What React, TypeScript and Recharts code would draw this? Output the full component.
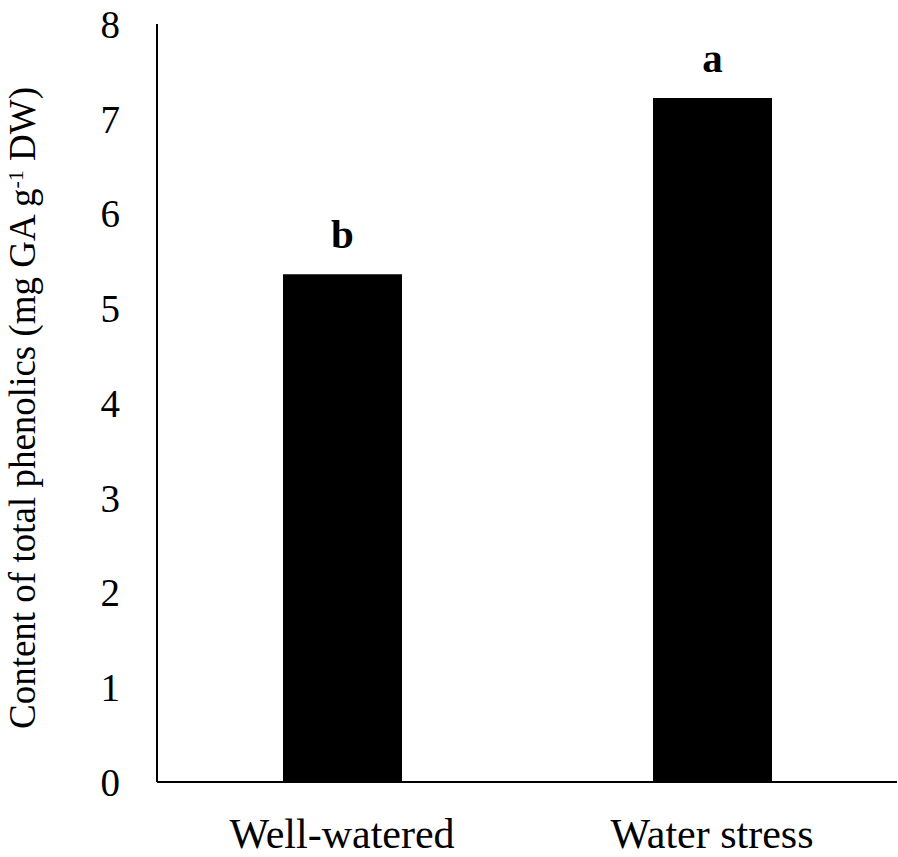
import React from "react";
import { BarChart, Bar, XAxis, YAxis, LabelList } from "recharts";

const treatments = ["Well-watered", "Water stress"];
const phenolics = [5.36, 7.22];
const sigLetters = ["b", "a"];
const yTicks = [0, 1, 2, 3, 4, 5, 6, 7, 8];

const data = treatments.map((name, i) => ({
  name,
  value: phenolics[i],
  letter: sigLetters[i],
}));

const FONT = '"Liberation Serif", "Times New Roman", serif';

const YLabel = () => (
  <text
    transform="translate(35, 408) rotate(-90)"
    textAnchor="middle"
    fontFamily={FONT}
    fontSize={37}
    fill="#000"
  >
    Content of total phenolics (mg GA g
    <tspan fontSize={22} dy={-12}>-1</tspan>
    <tspan dy={12}> DW)</tspan>
  </text>
);

export default function App() {
  return (
    <div style={{ position: "absolute", left: 0, top: 0, background: "#fff" }}>
      <BarChart
        width={898}
        height={857}
        data={data}
        margin={{ top: 24, right: 1, left: 0, bottom: 0 }}
      >
        <XAxis
          dataKey="name"
          height={75}
          tickLine={false}
          tickSize={0}
          tickMargin={36}
          axisLine={{ stroke: "#000", strokeWidth: 2 }}
          tick={{ fill: "#000", fontSize: 42, fontFamily: FONT }}
        />
        <YAxis
          width={157}
          domain={[0, 8]}
          ticks={yTicks}
          interval={0}
          tickLine={false}
          tickSize={0}
          tickMargin={37}
          axisLine={{ stroke: "#000", strokeWidth: 2 }}
          tick={{ fill: "#000", fontSize: 39, fontFamily: FONT }}
          label={<YLabel />}
        />
        <Bar dataKey="value" fill="#000" barSize={119} isAnimationActive={false}>
          <LabelList
            dataKey="letter"
            position="top"
            offset={26}
            fill="#000"
            fontSize={41}
            fontWeight="bold"
            fontFamily={FONT}
          />
        </Bar>
      </BarChart>
    </div>
  );
}
